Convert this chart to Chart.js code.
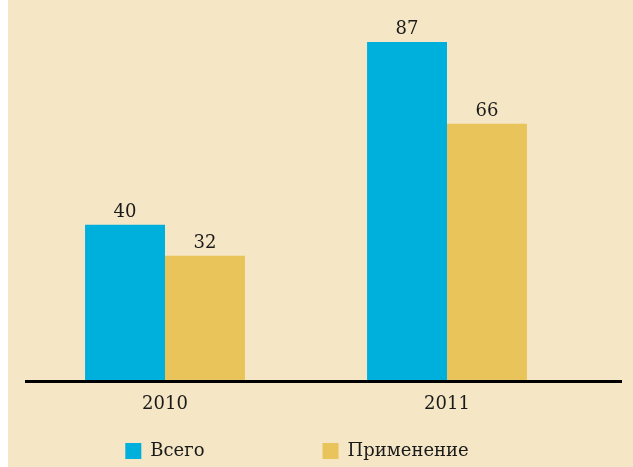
<!DOCTYPE html>
<html>
<head>
<meta charset="utf-8">
<script src="https://cdn.jsdelivr.net/npm/chart.js@4/dist/chart.umd.min.js"></script>
<style>
  html, body { margin: 0; padding: 0; background: #ffffff; }
  #wrap { position: absolute; left: 8px; top: 0; width: 625px; height: 467px; background: #f5e6c5; }
  canvas { display: block; }
</style>
</head>
<body>
<div id="wrap"><canvas id="chart" width="625" height="467"></canvas></div>
<script>
// Data
const years = ['2010', '2011'];
const totalValues = [40, 87];
const appliedValues = [32, 66];
const seriesNames = ['Всего', 'Применение'];

const BLUE = '#00b0dc';
const YELLOW = '#e8c45a';
const TEXT = '#1a1a1a';
const FONT = "'DejaVu Serif', serif";

// values above each bar, positioned from the bar elements
const valueLabels = {
    id: 'valueLabels',
    afterDatasetsDraw(chart) {
        const ctx = chart.ctx;
        ctx.save();
        ctx.fillStyle = TEXT;
        ctx.font = `18px ${FONT}`;
        ctx.textAlign = 'center';
        ctx.textBaseline = 'alphabetic';
        chart.data.datasets.forEach((ds, i) => {
            chart.getDatasetMeta(i).data.forEach((bar, j) => {
                ctx.fillText(ds.data[j], bar.x, bar.y - 8);
            });
        });
        ctx.restore();
    }
};

// long black baseline that runs past the plot area
const baseLine = {
    id: 'baseLine',
    afterDatasetsDraw(chart) {
        const ctx = chart.ctx;
        const y = chart.scales.y.getPixelForValue(0);
        ctx.save();
        ctx.strokeStyle = '#000';
        ctx.lineWidth = 3;
        ctx.beginPath();
        ctx.moveTo(17, y + 1.5);
        ctx.lineTo(614, y + 1.5);
        ctx.stroke();
        ctx.restore();
    }
};

// em spaces widen the legend items so the gap matches the picture
const legendPad = ['\u2003\u2003\u2003\u2003\u2003\u2003', '\u2003'];

new Chart(document.getElementById('chart'), {
    type: 'bar',
    data: {
        labels: years,
        datasets: [
            { label: seriesNames[0], data: totalValues, backgroundColor: BLUE },
            { label: seriesNames[1], data: appliedValues, backgroundColor: YELLOW }
        ]
    },
    options: {
        responsive: false,
        animation: false,
        categoryPercentage: 0.567,
        barPercentage: 1.0,
        layout: { padding: { left: 16, right: 45, top: 11, bottom: 0 } },
        scales: {
            x: {
                grid: { display: false, drawTicks: false },
                border: { display: false },
                ticks: { color: TEXT, font: { family: FONT, size: 18 }, padding: 14 },
                afterFit: s => { s.height = 52; }
            },
            y: {
                display: false,
                min: 0,
                max: 95
            }
        },
        plugins: {
            legend: {
                position: 'bottom',
                maxHeight: 35,
                labels: {
                    color: TEXT,
                    font: { family: FONT, size: 18 },
                    boxWidth: 16,
                    boxHeight: 16,
                    padding: 10,
                    generateLabels: chart => {
                        const items = Chart.defaults.plugins.legend.labels.generateLabels(chart);
                        items.forEach((it, i) => { it.text = it.text + legendPad[i]; });
                        return items;
                    }
                }
            },
            tooltip: { enabled: false }
        }
    },
    plugins: [valueLabels, baseLine]
});
</script>
</body>
</html>
